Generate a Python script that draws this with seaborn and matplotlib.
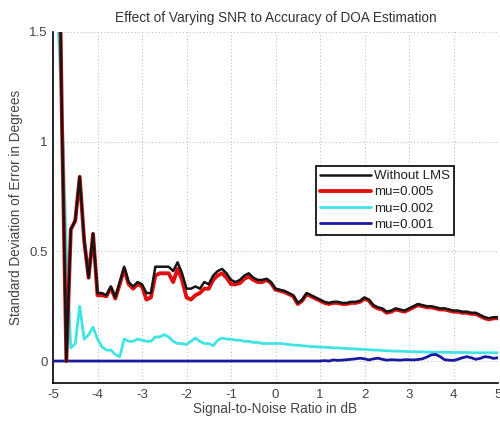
import numpy as np
import pandas as pd
import matplotlib
matplotlib.use("Agg")
import matplotlib.pyplot as plt
import seaborn as sns

# SNR axis, 0.1 dB steps
snr = np.round(np.arange(-5.0, 5.01, 0.1), 1)

without_lms = [
    4.0, 2.5, 1.1, 0.0, 0.6, 0.64, 0.84, 0.55, 0.38, 0.58,
    0.31, 0.31, 0.30, 0.34, 0.29, 0.36, 0.43, 0.36, 0.34, 0.36,
    0.35, 0.31, 0.31, 0.43, 0.43, 0.43, 0.43, 0.41, 0.45, 0.40,
    0.33, 0.33, 0.34, 0.33, 0.36, 0.35, 0.39, 0.41, 0.42, 0.40,
    0.37, 0.36, 0.37, 0.39, 0.40, 0.38, 0.37, 0.37, 0.375, 0.36,
    0.33, 0.325, 0.32, 0.31, 0.30, 0.265, 0.28, 0.31, 0.30, 0.29,
    0.28, 0.27, 0.265, 0.27, 0.27, 0.265, 0.265, 0.27, 0.27, 0.275,
    0.29, 0.28, 0.255, 0.245, 0.24, 0.225, 0.23, 0.24, 0.235, 0.23,
    0.24, 0.25, 0.26, 0.255, 0.25, 0.25, 0.245, 0.24, 0.24, 0.235,
    0.23, 0.23, 0.225, 0.225, 0.22, 0.22, 0.21, 0.20, 0.195, 0.20,
    0.20,
]

mu_005 = [
    4.0, 2.5, 1.1, 0.0, 0.6, 0.64, 0.84, 0.55, 0.38, 0.58,
    0.30, 0.30, 0.295, 0.335, 0.285, 0.35, 0.42, 0.35, 0.33, 0.35,
    0.34, 0.28, 0.29, 0.39, 0.40, 0.40, 0.40, 0.36, 0.42, 0.37,
    0.29, 0.28, 0.30, 0.31, 0.33, 0.33, 0.37, 0.39, 0.40, 0.38,
    0.35, 0.35, 0.355, 0.375, 0.385, 0.37, 0.36, 0.36, 0.37, 0.355,
    0.325, 0.32, 0.315, 0.305, 0.295, 0.26, 0.275, 0.305, 0.295, 0.285,
    0.275, 0.265, 0.26, 0.265, 0.265, 0.26, 0.26, 0.265, 0.265, 0.27,
    0.285, 0.275, 0.25, 0.24, 0.235, 0.22, 0.225, 0.235, 0.23, 0.225,
    0.235, 0.245, 0.255, 0.25, 0.245, 0.245, 0.24, 0.235, 0.235, 0.23,
    0.225, 0.225, 0.22, 0.22, 0.215, 0.215, 0.205, 0.195, 0.19, 0.195,
    0.195,
]

mu_002 = [
    3.0, 1.6, 1.15, 0.5, 0.06, 0.08, 0.25, 0.10, 0.12, 0.155,
    0.10, 0.065, 0.05, 0.05, 0.03, 0.02, 0.10, 0.09, 0.09, 0.10,
    0.095, 0.09, 0.09, 0.11, 0.11, 0.12, 0.11, 0.09, 0.08, 0.08,
    0.075, 0.09, 0.105, 0.09, 0.08, 0.08, 0.07, 0.095, 0.105, 0.10,
    0.10, 0.095, 0.095, 0.09, 0.09, 0.085, 0.085, 0.08, 0.08, 0.08,
    0.08, 0.08, 0.078, 0.075, 0.073, 0.072, 0.07, 0.068, 0.066, 0.065,
    0.064, 0.063, 0.062, 0.06, 0.06, 0.058, 0.057, 0.056, 0.055, 0.054,
    0.053, 0.052, 0.05, 0.05, 0.048, 0.047, 0.046, 0.045, 0.045, 0.044,
    0.043, 0.043, 0.042, 0.042, 0.041, 0.041, 0.04, 0.04, 0.04, 0.04,
    0.039, 0.039, 0.039, 0.039, 0.038, 0.038, 0.038, 0.038, 0.038, 0.038,
    0.038,
]

mu_001 = [0.0] * 61 + [
    0.002, 0.0, 0.005, 0.003, 0.004, 0.006, 0.008, 0.01, 0.013, 0.01,
    0.005, 0.01, 0.013, 0.008, 0.004, 0.006, 0.005, 0.004, 0.006, 0.006,
    0.005, 0.007, 0.01, 0.018, 0.028, 0.03, 0.02, 0.006, 0.004, 0.003,
    0.008, 0.015, 0.02, 0.015, 0.008, 0.012, 0.02, 0.018, 0.012, 0.015,
]

labels = ["Without LMS", "mu=0.005", "mu=0.002", "mu=0.001"]
colors = ["#151515", "#e01010", "#40e4e4", "#1a1aa0"]

df = pd.DataFrame({"snr": snr, labels[0]: without_lms, labels[1]: mu_005,
                   labels[2]: mu_002, labels[3]: mu_001})

sns.set_style("white")
plt.rcParams["font.family"] = ["Liberation Sans", "DejaVu Sans"]

fig = plt.figure(figsize=(5.0, 4.21), dpi=100)
ax = fig.add_axes([0.106, 0.0903, 0.89, 0.8337])

# draw order: cyan, blue, red under black
widths = {labels[0]: 1.8, labels[1]: 2.8, labels[2]: 2.0, labels[3]: 2.0}
zorders = {labels[0]: 5, labels[1]: 4, labels[2]: 3, labels[3]: 3.5}
handles = []
for lab, col in zip(labels, colors):
    sns.lineplot(data=df, x="snr", y=lab, color=col, linewidth=widths[lab],
                 ax=ax, zorder=zorders[lab], label=lab, legend=False)
    handles.append(ax.lines[-1])

ax.set_xlim(-5, 5)
ax.set_ylim(-0.1, 1.5)
ax.set_xticks(np.arange(-5, 6, 1))
ax.set_yticks([0, 0.5, 1, 1.5])
ax.set_xticklabels([str(v) for v in range(-5, 6)])
ax.set_yticklabels(["0", "0.5", "1", "1.5"])

ax.grid(True, linestyle=(0, (1, 2.5)), color="#b4b4b4", linewidth=0.7)
for side in ["top", "right"]:
    ax.spines[side].set_visible(False)
for side in ["left", "bottom"]:
    ax.spines[side].set_color("black")
    ax.spines[side].set_linewidth(1.2)
ax.tick_params(direction="in", length=4, width=1.0, colors="black",
               labelcolor="#444444", labelsize=9.5, pad=4)

ax.set_title("Effect of Varying SNR to Accuracy of DOA Estimation",
             fontsize=9.8, color="#333333", pad=7)
ax.set_xlabel("Signal-to-Noise Ratio in dB", fontsize=9.8, color="#444444",
              labelpad=1)
ax.set_ylabel("Standard Deviation of Error in Degrees", fontsize=9.8,
              color="#444444", labelpad=4)

leg = ax.legend(handles=handles, labels=labels, loc="upper left",
                bbox_to_anchor=(0.59, 0.618), fontsize=9.5, frameon=True,
                fancybox=False, framealpha=1, edgecolor="black",
                handlelength=3.9, borderpad=0.3, labelspacing=0.3,
                handletextpad=0.25, borderaxespad=0)
leg.get_frame().set_linewidth(1.2)
for t in leg.get_texts():
    t.set_color("#222222")

fig.savefig("out.png", dpi=100)
